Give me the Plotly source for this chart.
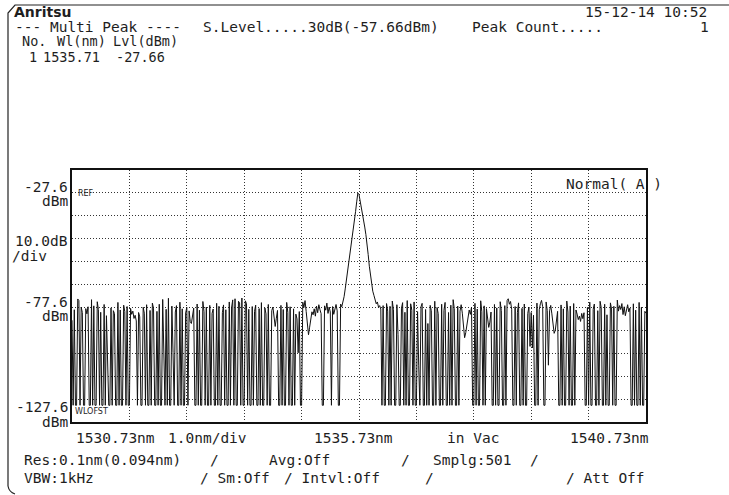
import numpy as np
import plotly.graph_objects as go

# ---------------- data ----------------
START_NM = 1530.73
STOP_NM = 1540.73
SAMPLES = 501
REF_DBM = -27.6
DB_PER_DIV = 10.0

# i = 0..199  (dense noise, left)
noise_left = [
    -83.2, -120.3, -78.6, -120.3, -120.3, -73.9, -74.6, -120.3, -77.4, -79.8,
    -120.3, -120.3, -78.1, -80.4, -77.3, -120.3, -120.3, -74.2, -120.3, -76.9,
    -120.3, -120.3, -75.1, -78.5, -120.3, -79.7, -120.3, -120.3, -76.3, -120.3,
    -81.2, -99.7, -120.3, -120.3, -77.8, -120.3, -79.0, -80.3, -120.3, -120.3,
    -75.4, -120.3, -78.7, -120.3, -120.3, -76.6, -79.4, -120.3, -77.2, -120.3,
    -120.3, -78.0, -80.6, -79.2, -82.4, -81.0, -83.5, -120.3, -79.8, -81.7,
    -120.3, -120.3, -77.5, -80.1, -120.3, -76.4, -120.3, -120.3, -78.9, -120.3,
    -75.7, -77.9, -120.3, -120.3, -79.3, -120.3, -76.2, -120.3, -120.3, -74.1,
    -96.8, -120.3, -78.4, -120.3, -73.6, -120.3, -120.3, -77.0, -97.2, -120.3,
    -79.6, -76.8, -120.3, -120.3, -75.3, -120.3, -78.2, -120.3, -120.3, -80.0,
    -77.6, -120.3, -79.1, -83.8, -84.6, -80.7, -77.9, -120.3, -120.3, -76.1,
    -120.3, -78.8, -120.3, -120.3, -75.0, -79.5, -120.3, -77.4, -120.3, -120.3,
    -76.7, -120.3, -80.2, -78.3, -120.3, -120.3, -75.8, -120.3, -77.1, -120.3,
    -120.3, -79.9, -76.5, -120.3, -78.6, -120.3, -120.3, -75.2, -120.3, -77.7,
    -74.3, -120.3, -73.8, -120.3, -120.3, -74.9, -75.6, -120.3, -73.5, -120.3,
    -120.3, -74.7, -76.0, -120.3, -78.4, -120.3, -120.3, -77.2, -120.3, -79.3,
    -76.6, -120.3, -120.3, -78.1, -120.3, -75.5, -120.3, -120.3, -77.8, -80.4,
    -120.3, -76.3, -120.3, -120.3, -79.0, -77.4, -80.8, -85.9, -82.3, -78.9,
    -120.3, -120.3, -76.7, -120.3, -78.5, -120.3, -120.3, -75.4, -79.7, -120.3,
    -77.3, -120.3, -120.3, -78.2, -120.3, -80.5, -82.6, -97.4, -79.4, -120.3,
]

# i = 200..236  (sparse region before the peak)
noise_mid = [
    -120.3, -75.3, -77.6, -74.6, -79.4, -84.8, -89.5, -86.2, -82.1, -79.5,
    -80.8, -78.2, -81.4, -77.0, -79.9, -76.4, -78.6, -80.3, -120.3, -120.3,
    -76.9, -78.8, -75.7, -80.2, -77.4, -79.6, -120.3, -77.2, -80.6, -78.0,
    -76.3, -79.1, -120.3, -120.3, -76.1, -77.3, -75.4,
]

# i = 237..268  (the peak, 1535.71 nm / -27.66 dBm)
peak = [
    -72.9, -69.5, -66.0, -62.3, -58.6, -54.9, -51.1, -47.4, -43.5, -39.7,
    -35.8, -31.5, -27.66, -28.3, -30.9, -33.5, -36.3, -39.3, -42.5, -45.8,
    -49.5, -54.5, -59.6, -64.2, -67.8, -70.5, -72.3, -73.8, -76.0, -75.2,
    -77.5, -76.8,
]

# i = 269..500  (dense noise, right)
noise_right = [
    -78.3, -120.3, -76.8, -120.3, -120.3, -75.9, -79.2, -120.3, -77.1, -120.3,
    -74.8, -78.6, -120.3, -120.3, -76.4, -89.3, -120.3, -120.3, -77.9, -75.5,
    -120.3, -79.7, -120.3, -74.6, -120.3, -120.3, -76.0, -78.8, -120.3, -75.2,
    -120.3, -120.3, -79.4, -102.8, -120.3, -77.3, -75.8, -120.3, -120.3, -78.5,
    -120.3, -84.6, -120.3, -76.7, -79.0, -120.3, -120.3, -74.9, -120.3, -77.6,
    -80.3, -120.3, -120.3, -76.2, -120.3, -78.9, -75.4, -120.3, -120.3, -79.8,
    -120.3, -76.6, -120.3, -74.2, -78.1, -120.3, -120.3, -77.0, -120.3, -79.2,
    -76.4, -80.1, -84.7, -90.8, -88.6, -85.2, -81.3, -78.7, -80.6, -77.5,
    -120.3, -120.3, -75.8, -120.3, -78.3, -120.3, -120.3, -74.7, -79.5, -120.3,
    -76.9, -120.3, -78.1, -81.9, -86.3, -84.0, -79.6, -120.3, -120.3, -76.3,
    -120.3, -77.8, -120.3, -120.3, -75.1, -79.0, -120.3, -120.3, -76.8, -120.3,
    -74.6, -73.8, -76.2, -75.0, -78.4, -120.3, -120.3, -77.2, -120.3, -79.7,
    -75.6, -120.3, -120.3, -78.0, -120.3, -76.1, -120.3, -120.3, -80.2, -77.4,
    -94.6, -79.8, -95.3, -81.0, -120.3, -120.3, -75.7, -120.3, -78.6, -76.0,
    -74.5, -77.3, -120.3, -120.3, -75.2, -78.9, -102.8, -79.1, -76.7, -80.4,
    -85.1, -88.9, -87.5, -83.0, -79.3, -120.3, -120.3, -76.5, -120.3, -78.2,
    -120.3, -120.3, -74.8, -79.6, -120.3, -77.0, -120.3, -120.3, -75.9, -120.3,
    -78.7, -80.5, -82.9, -81.4, -83.7, -80.2, -82.5, -79.9, -120.3, -120.3,
    -77.6, -120.3, -75.3, -120.3, -120.3, -78.4, -76.1, -120.3, -120.3, -79.0,
    -120.3, -74.9, -77.7, -120.3, -120.3, -76.2, -120.3, -80.8, -120.3, -120.3,
    -75.6, -78.3, -120.3, -77.1, -120.3, -120.3, -74.4, -79.2, -76.8, -78.5,
    -75.9, -80.7, -77.3, -81.2, -78.0, -76.4, -79.5, -77.9, -120.3, -120.3,
    -76.0, -120.3, -78.8, -120.3, -120.3, -75.4, -120.3, -77.5, -120.3, -120.3,
    -79.3, -80.1,
]

level_dbm = noise_left + noise_mid + peak + noise_right
wavelength_nm = np.linspace(START_NM, STOP_NM, SAMPLES)

# ---------------- figure ----------------
W, H = 729, 495
PL, PR, PT, PB = 72, 646, 170, 422   # plot frame in pixels


def X(p):
    return (p - PL) / (PR - PL)


def Y(p):
    return (PB - p) / (PB - PT)


FONT = "DejaVu Sans Mono"
INK = "#1e1e1e"
FS = 14.5

fig = go.Figure()
fig.add_trace(go.Scatter(
    x=wavelength_nm[:len(level_dbm)], y=level_dbm, mode="lines",
    line=dict(color="#111111", width=1), hoverinfo="skip", showlegend=False,
))

ann = []


def label(text, x, y, anchor="left", size=FS, family=FONT, color=INK, bold=False):
    ann.append(dict(
        text=("<b>%s</b>" % text) if bold else text,
        x=X(x), y=Y(y), xref="paper", yref="paper",
        xanchor=anchor, yanchor="middle", showarrow=False, borderpad=0,
        font=dict(family=family, size=size, color=color),
    ))


# header
label("Anritsu", 13, 12, size=14, family="DejaVu Sans", bold=True)
label("15-12-14 10:52", 584, 12)
label("--- Multi Peak ----", 14, 27)
label("S.Level.....30dB(-57.66dBm)", 202, 27)
label("Peak Count.....", 471, 27)
label("1", 699, 27)
label("No.", 21, 41, size=13.5)
label("Wl(nm)", 56, 41, size=13.5)
label("Lvl(dBm)", 112, 41, size=13.5)
label("1", 28, 57, size=13.5)
label("1535.71", 42, 57, size=13.5)
label("-27.66", 115, 57, size=13.5)

# left scale
label("-27.6", 69, 187, anchor="right")
label("dBm", 69, 201, anchor="right")
label("10.0dB", 69, 241, anchor="right")
label("/div", 11, 256)
label("-77.6", 69, 302, anchor="right")
label("dBm", 69, 316, anchor="right")
label("-127.6", 69, 407, anchor="right")
label("dBm", 69, 422, anchor="right")

# in-plot marks
label("REF", 77, 193, size=8, family="DejaVu Sans")
label("WLOFST", 74, 411, size=8, family="DejaVu Sans")
label("Normal( A )", 565, 184)

# bottom scale
label("1530.73nm", 75, 438)
label("1.0nm/div", 167, 438)
label("1535.73nm", 313, 438)
label("in Vac", 446, 438)
label("1540.73nm", 569, 438)

# settings
label("Res:0.1nm(0.094nm)", 23, 460)
label("/", 209, 460)
label("Avg:Off", 268, 460)
label("/", 400, 460)
label("Smplg:501", 432, 460)
label("/", 529, 460)
label("VBW:1kHz", 23, 478)
label("/ Sm:Off", 199, 478)
label("/ Intvl:Off", 283, 478)
label("/", 424, 478)
label("/ Att Off", 565, 478)

# outer screen border
border = "M %f,%f L %f,%f L %f,%f L %f,%f" % (
    X(8), Y(486), X(8), Y(13), X(15), Y(5), X(729), Y(5))
curl = "M %f,%f Q %f,%f %f,%f" % (X(8), Y(486), X(9), Y(492), X(15), Y(494))
shapes = [
    dict(type="path", path=border, xref="paper", yref="paper",
         line=dict(color="#222222", width=1.2)),
    dict(type="path", path=curl, xref="paper", yref="paper",
         line=dict(color="#222222", width=1.2)),
]

axis_common = dict(
    showgrid=True, gridcolor="#333333", gridwidth=1, griddash="1px,2px",
    showticklabels=False, ticks="", zeroline=False,
    showline=True, linecolor="#111111", linewidth=1.5, mirror=True,
    fixedrange=True,
)

fig.update_layout(
    width=W, height=H, autosize=False,
    margin=dict(l=PL, r=W - PR, t=PT, b=H - PB, pad=0),
    paper_bgcolor="white", plot_bgcolor="white",
    xaxis=dict(range=[START_NM, STOP_NM], tick0=START_NM, dtick=1.0, **axis_common),
    yaxis=dict(range=[REF_DBM - 10 * DB_PER_DIV, REF_DBM + DB_PER_DIV],
               tick0=REF_DBM, dtick=DB_PER_DIV, **axis_common),
    annotations=ann, shapes=shapes, showlegend=False,
)

fig.write_html(
    "out.html",
    config={"displayModeBar": False},
    post_script="document.body.style.margin='0';document.body.style.overflow='hidden';",
)
